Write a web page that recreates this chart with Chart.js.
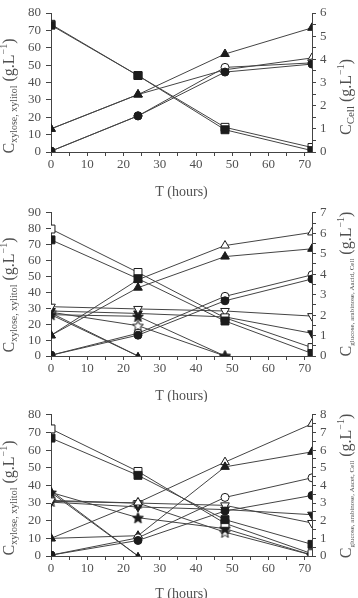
<!DOCTYPE html>
<html>
<head>
<meta charset="utf-8">
<title>Fermentation profiles</title>
<script src="https://cdn.jsdelivr.net/npm/chart.js@4"></script>
<style>
  body { margin: 0; background: #fff; }
  canvas { position: absolute; left: 0; }
</style>
</head>
<body>
<canvas id="c1" width="358" height="200" style="top:0"></canvas>
<canvas id="c2" width="358" height="202" style="top:200px"></canvas>
<canvas id="c3" width="358" height="196" style="top:402px"></canvas>
<script>
// sampling times (hours)
var hours = [0, 24, 48, 72];

// panel 1: xylose / xylitol on the left axis, cells on the right axis
var p1XyloseA = [73, 44, 12.8, 0.8];
var p1XyloseB = [73.5, 44, 14.2, 2.6];
var p1XylitolA = [0.5, 20.8, 46, 50.6];
var p1XylitolB = [0.5, 20.8, 48.7, 51.3];
var p1CellA = [1.0, 2.48, 4.23, 5.36];
var p1CellB = [1.0, 2.48, 3.55, 4.06];

// panel 2
var p2XyloseA = [73, 48.6, 22, 1.6];
var p2XyloseB = [79.8, 52.5, 24, 5.3];
var p2XylitolA = [0.5, 13.1, 34.7, 48.4];
var p2XylitolB = [0.5, 14.3, 37.5, 51];
var p2CellA = [1.01, 3.34, 4.86, 5.24];
var p2CellB = [1.01, 3.73, 5.40, 6.04];
var p2AcidB = [2.41, 2.30, 2.20, 1.95];
var p2AcidA = [2.20, 2.08, 1.91, 1.11];
var p2StarA = [2.02, 1.94, 0, null];
var p2StarB = [2.14, 1.48, 0, null];
var p2Glucose = [2.10, 0, null, null];
var p2Arabinose = [2.02, 0, null, null];

// panel 3
var p3XyloseA = [66.8, 45.7, 20.6, 6.6];
var p3XyloseB = [72, 47.9, 18.5, 1.3];
var p3XylitolA = [0.5, 8.8, 25.5, 34.3];
var p3XylitolB = [0.5, 10.3, 33.2, 44.3];
var p3CellA = [1.0, 1.15, 5.05, 5.9];
var p3CellB = [1.0, 3.03, 5.32, 7.49];
var p3AcetB = [3.15, 3.0, 2.87, 1.87];
var p3AcetA = [3.05, 2.78, 2.63, 2.34];
var p3StarA = [3.6, 2.17, 1.55, 0.05];
var p3StarB = [3.1, 3.0, 1.35, 0.05];
var p3Glucose = [3.7, 0, null, null];
var p3Arabinose = [3.6, 0, null, null];

// axis limits
var leftMax = [80, 90, 80];
var rightMax = [6, 7, 8];

var ink = '#1c1c1c';
var lineColor = '#444';
var textColor = '#505050';
var serif = '"Liberation Serif", "DejaVu Serif", serif';

function starImage(filled) {
  var c = document.createElement('canvas');
  c.width = 13; c.height = 13;
  var g = c.getContext('2d');
  g.beginPath();
  for (var i = 0; i < 10; i++) {
    var r = i % 2 ? 2.5 : 5.8;
    var a = -Math.PI / 2 + i * Math.PI / 5;
    g.lineTo(6.5 + r * Math.cos(a), 7 + r * Math.sin(a));
  }
  g.closePath();
  g.fillStyle = filled ? ink : '#fff';
  g.fill();
  g.strokeStyle = ink;
  g.lineWidth = 1;
  g.stroke();
  return c;
}
var starFilled = starImage(true);
var starOpen = starImage(false);

function series(values, axis, shape, filled, size, rot) {
  var pts = [];
  values.forEach(function (v, i) {
    if (v !== null) pts.push({ x: hours[i], y: v });
  });
  var style = shape;
  if (shape === 'star') style = filled ? starFilled : starOpen;
  return {
    data: pts,
    yAxisID: axis,
    borderColor: lineColor,
    borderWidth: 1,
    tension: 0,
    pointStyle: style,
    pointRadius: size,
    pointRotation: rot || 0,
    pointBackgroundColor: filled ? ink : '#fff',
    pointBorderColor: ink,
    pointBorderWidth: 1,
    clip: { left: 0, top: 6, right: 0, bottom: 0 }
  };
}

function axes(lMax, rMax, xHeight) {
  var tickFont = { family: serif, size: 13 };
  return {
    x: {
      type: 'linear', min: 0, max: 72,
      ticks: {
        stepSize: 5, includeBounds: false, autoSkip: false, maxRotation: 0,
        padding: 1, color: textColor, font: tickFont,
        callback: function (v) { return v % 10 === 0 ? v : ''; }
      },
      grid: { drawOnChartArea: false, tickLength: 4, color: lineColor },
      border: { color: lineColor },
      afterFit: function (s) { s.height = xHeight; }
    },
    y: {
      position: 'left', min: 0, max: lMax,
      ticks: { stepSize: 10, autoSkip: false, padding: 5, color: textColor, font: tickFont },
      grid: { drawOnChartArea: false, tickLength: 5, color: lineColor },
      border: { color: lineColor },
      afterFit: function (s) { s.width = 51; }
    },
    y2: {
      position: 'right', min: 0, max: rMax,
      ticks: {
        stepSize: 0.5, autoSkip: false, padding: 4, color: textColor, font: tickFont,
        callback: function (v) { return Number.isInteger(v) ? v : ''; }
      },
      grid: { drawOnChartArea: false, tickLength: 4, color: lineColor },
      border: { color: lineColor },
      afterFit: function (s) { s.width = 46; }
    }
  };
}

// draws a rotated title made of runs of text with their own size and shift
function drawRich(ctx, x, cy, parts) {
  var total = 0;
  parts.forEach(function (p) {
    ctx.font = p[1] + 'px ' + serif;
    p.w = ctx.measureText(p[0]).width;
    total += p.w;
  });
  ctx.save();
  ctx.translate(x, cy);
  ctx.rotate(-Math.PI / 2);
  ctx.textAlign = 'left';
  ctx.textBaseline = 'alphabetic';
  var pos = -total / 2;
  parts.forEach(function (p) {
    ctx.font = p[1] + 'px ' + serif;
    ctx.fillText(p[0], pos, p[2]);
    pos += p.w;
  });
  ctx.restore();
}

function unitTitle(sub, subSize) {
  return [['C', 16, 0], [sub, subSize, 3], [' (g.L', 16, 0], ['\u22121', 10, -7], [')', 16, 0]];
}

var axisTitles = {
  id: 'axisTitles',
  afterDraw: function (chart, args, opts) {
    var ctx = chart.ctx;
    var a = chart.chartArea;
    ctx.save();
    ctx.fillStyle = textColor;
    ctx.font = '14px ' + serif;
    ctx.textAlign = 'center';
    ctx.textBaseline = 'middle';
    ctx.fillText('T (hours)', (a.left + a.right) / 2, opts.xTitleY);
    drawRich(ctx, 14, opts.leftY, unitTitle('xylose, xylitol', 10));
    drawRich(ctx, 351, opts.rightY, unitTitle(opts.rightSub, opts.rightSubSize));
    ctx.restore();
  }
};

function makeChart(id, sets, idx, top, xHeight, titles) {
  new Chart(document.getElementById(id), {
    type: 'line',
    data: { datasets: sets },
    options: {
      responsive: false,
      animation: false,
      layout: { padding: { top: top, left: 0, right: 0, bottom: 0 } },
      scales: axes(leftMax[idx], rightMax[idx], xHeight),
      plugins: { legend: { display: false }, tooltip: { enabled: false }, axisTitles: titles }
    },
    plugins: [axisTitles]
  });
}

makeChart('c1', [
  series(p1XyloseA, 'y', 'rect', true, 5.6),
  series(p1XyloseB, 'y', 'rect', false, 5.6),
  series(p1XylitolA, 'y', 'circle', true, 4),
  series(p1XylitolB, 'y', 'circle', false, 4),
  series(p1CellA, 'y2', 'triangle', true, 5),
  series(p1CellB, 'y2', 'triangle', false, 5)
], 0, 13, 48, { xTitleY: 192, leftY: 96, rightY: 97, rightSub: 'Cell', rightSubSize: 11 });

makeChart('c2', [
  series(p2XyloseA, 'y', 'rect', true, 5.6),
  series(p2XyloseB, 'y', 'rect', false, 5.6),
  series(p2XylitolA, 'y', 'circle', true, 4),
  series(p2XylitolB, 'y', 'circle', false, 4),
  series(p2CellA, 'y2', 'triangle', true, 5),
  series(p2CellB, 'y2', 'triangle', false, 5),
  series(p2AcidB, 'y2', 'triangle', false, 5, 180),
  series(p2AcidA, 'y2', 'triangle', true, 5, 180),
  series(p2StarA, 'y2', 'star', true, 5),
  series(p2StarB, 'y2', 'star', false, 5),
  series(p2Glucose, 'y2', 'triangle', true, 3.5),
  series(p2Arabinose, 'y2', 'triangle', true, 3.5)
], 1, 9, 46, { xTitleY: 196, leftY: 95, rightY: 84, rightSub: 'glucose, arabinose, Aacid, Cell', rightSubSize: 7 });

makeChart('c3', [
  series(p3XyloseA, 'y', 'rect', true, 5.6),
  series(p3XyloseB, 'y', 'rect', false, 5.6),
  series(p3XylitolA, 'y', 'circle', true, 4),
  series(p3XylitolB, 'y', 'circle', false, 4),
  series(p3CellA, 'y2', 'triangle', true, 5),
  series(p3CellB, 'y2', 'triangle', false, 5),
  series(p3AcetB, 'y2', 'triangle', false, 5, 180),
  series(p3AcetA, 'y2', 'triangle', true, 5, 180),
  series(p3StarA, 'y2', 'star', true, 5),
  series(p3StarB, 'y2', 'star', false, 5),
  series(p3Glucose, 'y2', 'triangle', true, 3.5),
  series(p3Arabinose, 'y2', 'triangle', true, 3.5)
], 2, 12, 42, { xTitleY: 192, leftY: 96, rightY: 84, rightSub: 'glucose, arabinose, Aacet, Cell', rightSubSize: 7 });
</script>
</body>
</html>
